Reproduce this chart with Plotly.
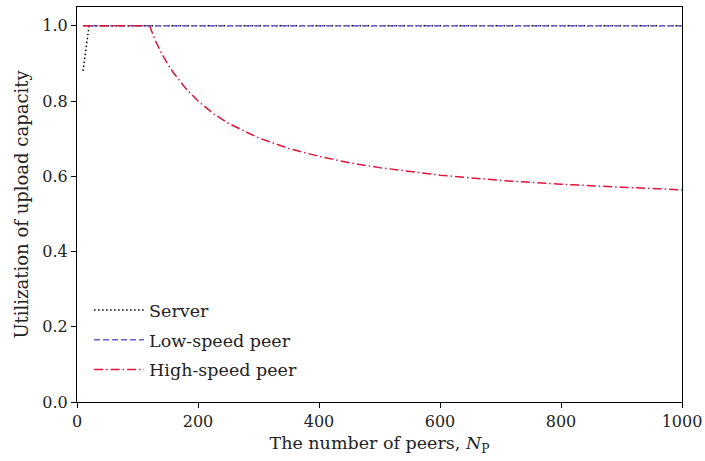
import plotly.graph_objects as go

server_n = [10, 20, 1000]
server_u = [0.88, 1.0, 1.0]

low_n = [10, 1000]
low_u = [1.0, 1.0]

high_n = [10, 120, 130, 140, 150, 160, 180, 200, 225, 250, 300, 350, 400, 450,
          500, 600, 700, 800, 900, 1000]
high_u = [1.0, 1.0, 0.959, 0.926, 0.898, 0.874, 0.833, 0.800, 0.767, 0.741,
          0.702, 0.674, 0.653, 0.636, 0.623, 0.603, 0.589, 0.579, 0.571, 0.564]

font = "DejaVu Serif"

fig = go.Figure()
fig.add_trace(go.Scatter(x=server_n, y=server_u, mode="lines", name="Server",
                         legendgroup="a",
                         line=dict(color="black", width=1.5, dash="1.5px,2.5px")))
fig.add_trace(go.Scatter(x=low_n, y=low_u, mode="lines", name="Low-speed peer",
                         legendgroup="b",
                         line=dict(color="#6a5acd", width=1.5, dash="6px,3px")))
fig.add_trace(go.Scatter(x=high_n, y=high_u, mode="lines", name="High-speed peer",
                         legendgroup="c",
                         line=dict(color="#dc143c", width=1.5, dash="9px,3px,1.5px,3px")))

fig.update_layout(
    width=705, height=461,
    margin=dict(l=77, r=23, t=7, b=59),
    paper_bgcolor="white", plot_bgcolor="white",
    font=dict(family=font, size=16, color="#222"),
    showlegend=True,
    legend=dict(x=0.02, y=0.035, xanchor="left", yanchor="bottom",
                bgcolor="rgba(0,0,0,0)", font=dict(size=17.5, family=font),
                itemwidth=50, tracegroupgap=4, traceorder="grouped"),
)
fig.update_xaxes(range=[0, 1000], tickvals=[0, 200, 400, 600, 800, 1000],
                 automargin=False,
                 showgrid=False, zeroline=False, showline=True, linecolor="black",
                 linewidth=1.2, mirror=True, ticks="outside", ticklen=5,
                 tickcolor="black",
                 title=dict(text="The number of peers, <i>N</i><sub>P</sub>",
                            font=dict(size=17.5), standoff=6))
fig.update_yaxes(range=[0, 1.05], tickvals=[0, 0.2, 0.4, 0.6, 0.8, 1.0],
                 tickformat=".1f", automargin=False,
                 showgrid=False, zeroline=False, showline=True, linecolor="black",
                 linewidth=1.2, mirror=True, ticks="outside", ticklen=5,
                 tickcolor="black",
                 title=dict(text="Utilization of upload capacity", font=dict(size=18),
                            standoff=8))

fig.write_html("out.html")
